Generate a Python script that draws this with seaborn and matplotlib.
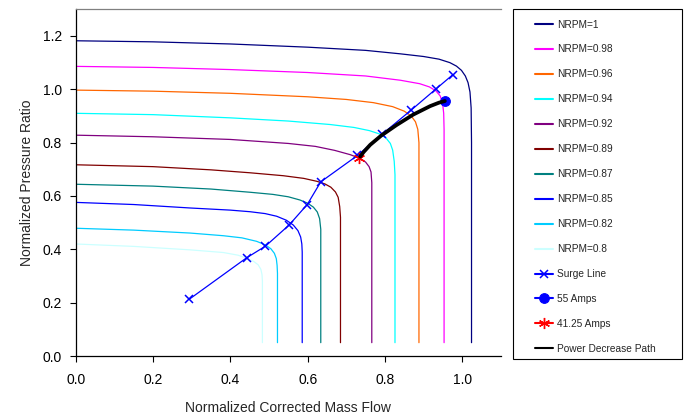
import matplotlib
matplotlib.use("Agg")
import matplotlib.pyplot as plt
from matplotlib.patches import Rectangle
import seaborn as sns

# speed lines (NRPM)
nrpm_labels = ["NRPM=1", "NRPM=0.98", "NRPM=0.96", "NRPM=0.94", "NRPM=0.92",
               "NRPM=0.89", "NRPM=0.87", "NRPM=0.85", "NRPM=0.82", "NRPM=0.8"]
nrpm_colors = ["#000080", "#FF00FF", "#FF6600", "#00FFFF", "#800080",
               "#800000", "#008080", "#0000FF", "#00CCFF", "#CCFFFF"]

n100_x = [0, 0.2, 0.4, 0.6, 0.75, 0.84, 0.90, 0.94, 0.968, 0.985, 0.998, 1.008, 1.015, 1.02, 1.023, 1.024, 1.024]
n100_y = [1.182, 1.178, 1.170, 1.158, 1.146, 1.133, 1.123, 1.113, 1.100, 1.087, 1.071, 1.050, 1.025, 0.99, 0.93, 0.80, 0.05]

n098_x = [0, 0.2, 0.4, 0.6, 0.75, 0.84, 0.89, 0.915, 0.932, 0.943, 0.949, 0.952, 0.953, 0.953]
n098_y = [1.086, 1.082, 1.074, 1.063, 1.050, 1.034, 1.021, 1.009, 0.994, 0.975, 0.950, 0.91, 0.85, 0.05]

n096_x = [0, 0.2, 0.4, 0.6, 0.7, 0.77, 0.82, 0.85, 0.868, 0.879, 0.885, 0.888, 0.888]
n096_y = [0.997, 0.993, 0.985, 0.972, 0.962, 0.950, 0.935, 0.918, 0.900, 0.878, 0.85, 0.80, 0.05]

n094_x = [0, 0.2, 0.4, 0.55, 0.658, 0.72, 0.76, 0.787, 0.803, 0.814, 0.82, 0.824, 0.826, 0.826]
n094_y = [0.910, 0.905, 0.893, 0.881, 0.868, 0.857, 0.845, 0.832, 0.817, 0.797, 0.772, 0.73, 0.68, 0.05]

n092_x = [0, 0.2, 0.4, 0.55, 0.62, 0.67, 0.71, 0.736, 0.75, 0.759, 0.764, 0.766, 0.766]
n092_y = [0.828, 0.822, 0.812, 0.797, 0.786, 0.771, 0.755, 0.741, 0.727, 0.710, 0.69, 0.65, 0.05]

n089_x = [0, 0.2, 0.35, 0.451, 0.537, 0.59, 0.624, 0.645, 0.66, 0.672, 0.679, 0.683, 0.685, 0.685]
n089_y = [0.717, 0.710, 0.698, 0.687, 0.676, 0.666, 0.655, 0.645, 0.633, 0.615, 0.595, 0.56, 0.52, 0.05]

n087_x = [0, 0.2, 0.35, 0.451, 0.51, 0.55, 0.58, 0.60, 0.615, 0.625, 0.631, 0.634, 0.634]
n087_y = [0.644, 0.637, 0.626, 0.614, 0.606, 0.597, 0.585, 0.573, 0.558, 0.540, 0.515, 0.475, 0.05]

n085_x = [0, 0.15, 0.296, 0.4, 0.451, 0.49, 0.52, 0.545, 0.563, 0.575, 0.582, 0.585, 0.586, 0.586]
n085_y = [0.576, 0.568, 0.555, 0.547, 0.541, 0.534, 0.524, 0.509, 0.491, 0.470, 0.446, 0.42, 0.39, 0.05]

n082_x = [0, 0.15, 0.296, 0.382, 0.43, 0.468, 0.49, 0.505, 0.514, 0.519, 0.521, 0.522, 0.522]
n082_y = [0.479, 0.472, 0.461, 0.451, 0.443, 0.430, 0.417, 0.402, 0.385, 0.365, 0.34, 0.31, 0.05]

n080_x = [0, 0.15, 0.296, 0.382, 0.42, 0.442, 0.46, 0.472, 0.479, 0.482, 0.483, 0.483]
n080_y = [0.420, 0.411, 0.398, 0.388, 0.378, 0.367, 0.355, 0.342, 0.325, 0.305, 0.28, 0.05]

surge_x = [0.294, 0.442, 0.491, 0.552, 0.599, 0.634, 0.729, 0.792, 0.867, 0.931, 0.975]
surge_y = [0.213, 0.368, 0.412, 0.491, 0.568, 0.653, 0.752, 0.831, 0.921, 1.000, 1.054]

amps55_x = [0.955]
amps55_y = [0.956]
amps41_x = [0.734]
amps41_y = [0.743]

path_x = [0.736, 0.745, 0.762, 0.79, 0.83, 0.873, 0.917, 0.94, 0.955]
path_y = [0.748, 0.765, 0.792, 0.826, 0.866, 0.905, 0.937, 0.950, 0.956]

curves_x = [n100_x, n098_x, n096_x, n094_x, n092_x, n089_x, n087_x, n085_x, n082_x, n080_x]
curves_y = [n100_y, n098_y, n096_y, n094_y, n092_y, n089_y, n087_y, n085_y, n082_y, n080_y]

sns.set_style("ticks")
plt.rcParams['font.family'] = ['Liberation Sans', 'DejaVu Sans']

fig = plt.figure(figsize=(6.86, 4.17), dpi=100)
ax = fig.add_axes([75.7 / 686, 61 / 417, 425.2 / 686, 346.7 / 417])

for cx, cy, lab, col in zip(curves_x, curves_y, nrpm_labels, nrpm_colors):
    sns.lineplot(x=cx, y=cy, sort=False, estimator=None, color=col, linewidth=0.9,
                 label=lab, ax=ax)

sns.lineplot(x=surge_x, y=surge_y, sort=False, estimator=None, color="#0000FF",
             linewidth=0.9, marker="x", markersize=6, markeredgewidth=1.1,
             markeredgecolor="#0000FF", label="Surge Line", ax=ax)
sns.lineplot(x=amps55_x, y=amps55_y, sort=False, estimator=None, color="#0000FF",
             linewidth=1.5, marker="o", markersize=7, markeredgecolor="#0000FF",
             label="55 Amps", ax=ax)
sns.lineplot(x=amps41_x, y=amps41_y, sort=False, estimator=None, color="#FF0000",
             linewidth=1.5, marker=(6, 2, 0), markersize=8, markeredgewidth=1,
             markeredgecolor="#FF0000", label="41.25 Amps", ax=ax)
sns.lineplot(x=path_x, y=path_y, sort=False, estimator=None, color="black",
             linewidth=2.7, label="Power Decrease Path", ax=ax)

ax.set_xlim(0, 1.1)
ax.set_ylim(0, 1.3)
ax.set_xticks([0, 0.2, 0.4, 0.6, 0.8, 1.0])
ax.set_yticks([0, 0.2, 0.4, 0.6, 0.8, 1.0, 1.2])
ax.set_xticklabels(["0.0", "0.2", "0.4", "0.6", "0.8", "1.0"])
ax.set_yticklabels(["0.0", "0.2", "0.4", "0.6", "0.8", "1.0", "1.2"])
ax.tick_params(axis="both", labelsize=10, length=4, width=0.8, colors="black", direction="out")
ax.tick_params(axis="x", pad=8)
ax.tick_params(axis="y", pad=6)
ax.set_xlabel("Normalized Corrected Mass Flow", fontsize=10, labelpad=10)
ax.set_ylabel("Normalized Pressure Ratio", fontsize=10, labelpad=6)

for s in ["left", "bottom"]:
    ax.spines[s].set_color("black")
    ax.spines[s].set_linewidth(0.9)
ax.spines["top"].set_color("#808080")
ax.spines["top"].set_linewidth(0.9)
ax.spines["right"].set_visible(False)

handles, labels = ax.get_legend_handles_labels()
ax.get_legend().remove()

fig.patches.append(Rectangle((513 / 686, 57.7 / 417), 169 / 686, 350 / 417,
                             transform=fig.transFigure, fill=False,
                             edgecolor="black", linewidth=0.8))
leg = fig.legend(handles, labels, loc="upper left", bbox_to_anchor=(535 / 686, 1 - 19.5 / 417),
                 frameon=False, fontsize=7.3, borderpad=0, labelspacing=1.475,
                 handlelength=1.75, handletextpad=0.4, borderaxespad=0)
for h in leg.get_lines():
    h.set_linewidth(1.5)

fig.savefig("out.png", dpi=100)
